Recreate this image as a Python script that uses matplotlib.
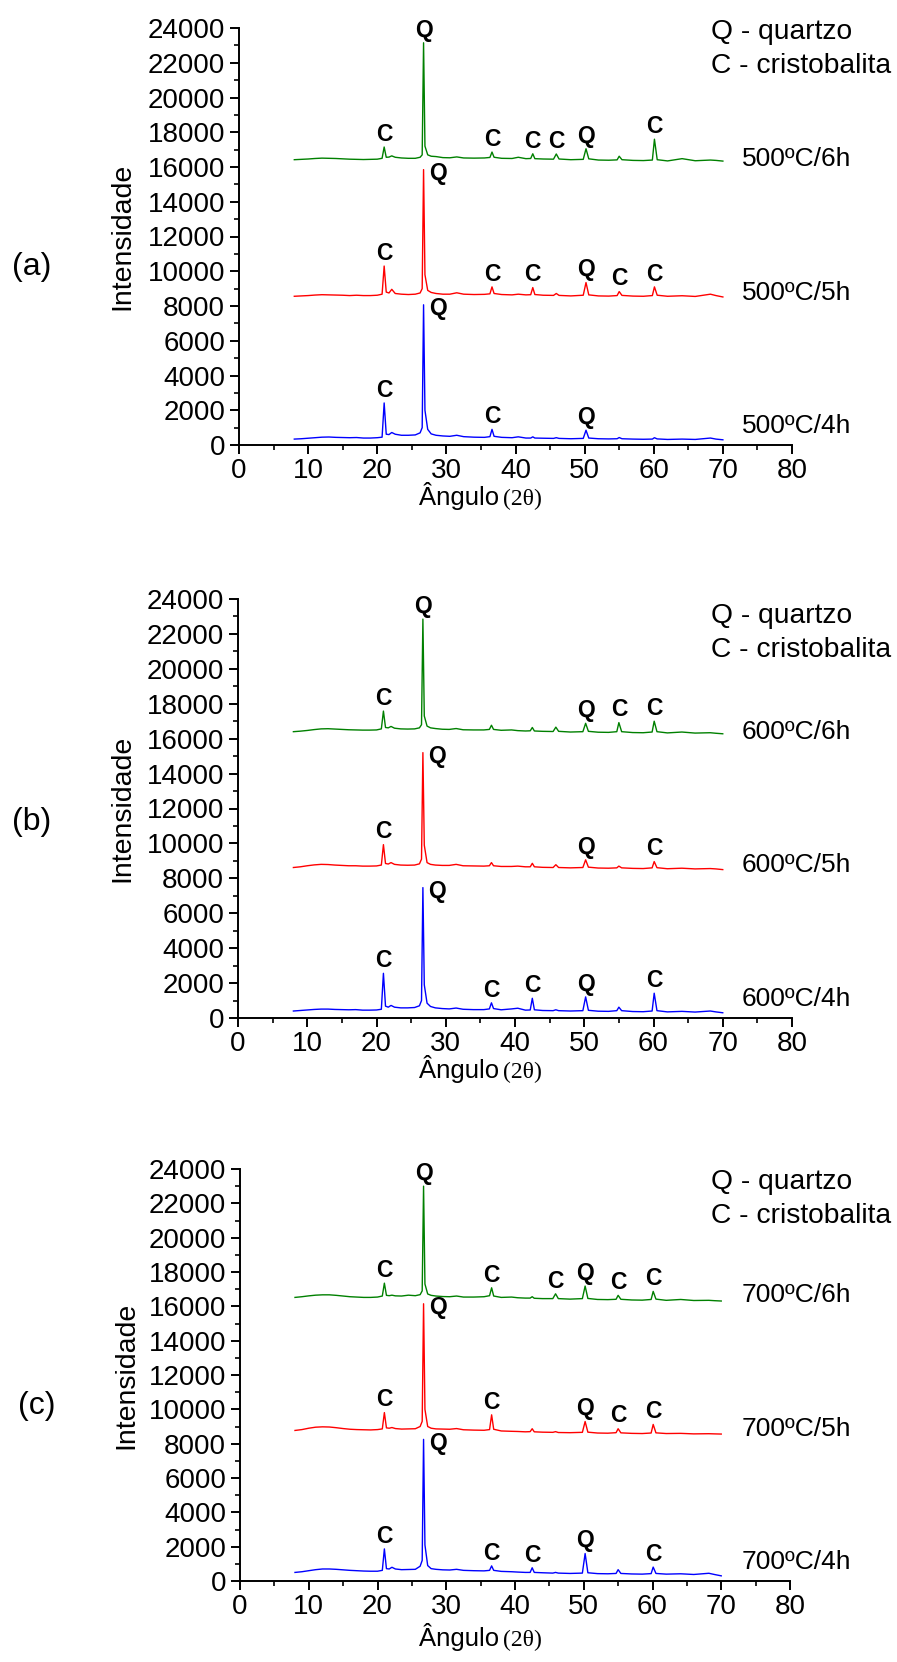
import matplotlib
matplotlib.use("Agg")
import matplotlib.pyplot as plt
from matplotlib.ticker import MultipleLocator

plt.rcParams['font.family'] = ['Liberation Sans', 'DejaVu Sans']

# ---------------------------------------------------------------- data
# diffraction angle (2θ, degrees) shared by every pattern
two_theta = [8.0, 9.0, 10.0, 11.0, 12.0, 13.0, 14.0, 15.0, 16.0, 17.0,
             18.0, 19.0, 20.0, 20.7, 21.0, 21.3, 21.7, 22.1, 22.6, 23.5,
             24.5, 25.5, 26.2, 26.5, 26.7, 26.9, 27.3, 27.8, 28.5, 29.5,
             30.5, 31.5, 32.5, 34.0, 35.5, 36.3, 36.6, 36.9, 38.0, 39.5,
             40.4, 41.5, 42.2, 42.5, 42.8, 44.0, 45.5, 45.9, 46.3, 48.0,
             49.8, 50.2, 50.6, 52.0, 53.5, 54.7, 55.0, 55.4, 57.0, 58.5,
             59.8, 60.1, 60.5, 62.0, 64.1, 66.0, 68.2, 69.0, 70.0]

# 500 ºC
i500_6h = [16420, 16440, 16460, 16490, 16510, 16500, 16490, 16470, 16450, 16440,
           16430, 16440, 16450, 16500, 17150, 16560, 16570, 16640, 16560, 16520,
           16500, 16500, 16560, 16700, 23150, 17200, 16700, 16620, 16600, 16540,
           16530, 16580, 16520, 16510, 16520, 16550, 16860, 16560, 16500, 16490,
           16560, 16480, 16490, 16760, 16480, 16460, 16450, 16750, 16460, 16420,
           16440, 17050, 16470, 16400, 16390, 16410, 16620, 16420, 16380, 16370,
           16400, 17600, 16420, 16350, 16480, 16360, 16400, 16380, 16340]
i500_5h = [8560, 8580, 8600, 8630, 8650, 8640, 8630, 8620, 8600, 8620,
           8600, 8600, 8620, 8680, 10300, 8800, 8750, 8960, 8720, 8680,
           8660, 8680, 8750, 9000, 15850, 9800, 8900, 8780, 8720, 8680,
           8680, 8760, 8680, 8660, 8670, 8700, 9100, 8720, 8660, 8640,
           8680, 8640, 8650, 9060, 8660, 8620, 8610, 8720, 8610, 8580,
           8620, 9350, 8640, 8580, 8570, 8600, 8830, 8610, 8570, 8560,
           8600, 9100, 8620, 8560, 8590, 8550, 8680, 8600, 8520]
i500_4h = [340, 360, 390, 420, 450, 460, 440, 430, 420, 430,
           400, 400, 420, 450, 2420, 620, 600, 720, 620, 560,
           560, 580, 700, 1000, 8070, 2000, 900, 640, 560, 520,
           500, 560, 480, 450, 440, 480, 900, 500, 440, 420,
           470, 400, 400, 470, 400, 390, 380, 420, 380, 360,
           380, 850, 400, 360, 350, 360, 430, 360, 340, 330,
           340, 420, 350, 320, 340, 320, 400, 340, 300]

# 600 ºC
i600_6h = [16400, 16430, 16470, 16520, 16560, 16570, 16550, 16530, 16510, 16500,
           16490, 16490, 16500, 16560, 17580, 16640, 16620, 16700, 16600, 16560,
           16550, 16560, 16620, 16800, 22850, 17300, 16720, 16620, 16580, 16540,
           16530, 16580, 16510, 16500, 16500, 16530, 16770, 16530, 16480, 16500,
           16460, 16440, 16450, 16640, 16440, 16420, 16410, 16660, 16420, 16380,
           16400, 16880, 16420, 16370, 16360, 16400, 16920, 16400, 16350, 16340,
           16380, 17000, 16400, 16330, 16380, 16320, 16340, 16310, 16280]
i600_5h = [8620, 8660, 8720, 8770, 8800, 8790, 8760, 8740, 8720, 8720,
           8700, 8700, 8710, 8760, 9930, 8850, 8820, 8900, 8800, 8760,
           8750, 8760, 8830, 9100, 15200, 9900, 8900, 8800, 8760, 8740,
           8740, 8800, 8720, 8710, 8700, 8720, 8900, 8720, 8680, 8680,
           8700, 8660, 8660, 8860, 8660, 8630, 8620, 8780, 8620, 8600,
           8620, 9060, 8640, 8590, 8580, 8600, 8700, 8600, 8570, 8560,
           8600, 8960, 8610, 8550, 8580, 8540, 8560, 8540, 8500]
i600_4h = [400, 430, 460, 490, 510, 510, 490, 480, 470, 480,
           450, 450, 460, 500, 2560, 680, 620, 720, 620, 580,
           580, 600, 700, 1000, 7470, 1900, 850, 660, 580, 540,
           520, 570, 500, 480, 480, 520, 870, 540, 470, 520,
           560, 450, 460, 1130, 470, 430, 420, 470, 420, 400,
           420, 1210, 440, 390, 380, 420, 620, 420, 370, 360,
           400, 1420, 420, 350, 380, 340, 400, 350, 300]

# 700 ºC
i700_6h = [16520, 16560, 16610, 16650, 16670, 16670, 16640, 16600, 16560, 16540,
           16520, 16520, 16540, 16600, 17350, 16640, 16620, 16650, 16610, 16600,
           16650, 16620, 16680, 16900, 23000, 17300, 16720, 16640, 16600, 16570,
           16560, 16600, 16540, 16540, 16560, 16620, 17080, 16600, 16520, 16540,
           16500, 16480, 16480, 16560, 16470, 16450, 16450, 16730, 16450, 16420,
           16450, 17180, 16460, 16400, 16390, 16410, 16640, 16410, 16370, 16360,
           16400, 16870, 16420, 16350, 16400, 16340, 16350, 16330, 16310]
i700_5h = [8770, 8820, 8900, 8960, 8980, 8970, 8930, 8880, 8840, 8820,
           8810, 8800, 8820, 8860, 9810, 8920, 8900, 8940, 8880, 8850,
           8860, 8870, 9000, 9300, 16150, 10000, 9000, 8900, 8860, 8850,
           8840, 8880, 8810, 8790, 8780, 8820, 9680, 8840, 8740, 8720,
           8710, 8690, 8700, 8870, 8690, 8670, 8660, 8700, 8650, 8640,
           8660, 9290, 8670, 8620, 8610, 8640, 8870, 8630, 8600, 8590,
           8620, 9120, 8630, 8590, 8600, 8570, 8580, 8570, 8560]
i700_4h = [500, 540, 600, 660, 700, 700, 680, 650, 620, 600,
           580, 570, 570, 620, 1870, 720, 700, 800, 700, 660,
           670, 680, 860, 1200, 8250, 2100, 900, 720, 680, 650,
           640, 680, 620, 600, 590, 620, 880, 620, 560, 540,
           520, 500, 500, 770, 500, 480, 460, 500, 460, 440,
           460, 1600, 480, 430, 420, 440, 660, 440, 410, 400,
           430, 810, 440, 400, 420, 380, 450, 380, 300]

series_names = {
    500: ['500ºC/6h', '500ºC/5h', '500ºC/4h'],
    600: ['600ºC/6h', '600ºC/5h', '600ºC/4h'],
    700: ['700ºC/6h', '700ºC/5h', '700ºC/4h'],
}

# identified phases: (2θ of the reflection, phase letter)
phases_500 = [
    [(21.0, 'C'), (26.7, 'Q'), (36.6, 'C'), (42.5, 'C'), (45.9, 'C'), (50.2, 'Q'), (60.1, 'C')],
    [(21.0, 'C'), (26.7, 'Q'), (36.6, 'C'), (42.5, 'C'), (50.2, 'Q'), (55.0, 'C'), (60.1, 'C')],
    [(21.0, 'C'), (26.7, 'Q'), (36.6, 'C'), (50.2, 'Q')],
]
phases_600 = [
    [(21.0, 'C'), (26.7, 'Q'), (50.2, 'Q'), (55.0, 'C'), (60.1, 'C')],
    [(21.0, 'C'), (26.7, 'Q'), (50.2, 'Q'), (60.1, 'C')],
    [(21.0, 'C'), (26.7, 'Q'), (36.6, 'C'), (42.5, 'C'), (50.2, 'Q'), (60.1, 'C')],
]
phases_700 = [
    [(21.0, 'C'), (26.7, 'Q'), (36.6, 'C'), (45.9, 'C'), (50.2, 'Q'), (55.0, 'C'), (60.1, 'C')],
    [(21.0, 'C'), (26.7, 'Q'), (36.6, 'C'), (50.2, 'Q'), (55.0, 'C'), (60.1, 'C')],
    [(21.0, 'C'), (26.7, 'Q'), (36.6, 'C'), (42.5, 'C'), (50.2, 'Q'), (60.1, 'C')],
]

x_ticks = [0, 10, 20, 30, 40, 50, 60, 70, 80]
y_ticks = list(range(0, 24001, 2000))
legend_lines = ['Q - quartzo', 'C - cristobalita']

# ---------------------------------------------------------------- layout
W, H = 897, 1662
fig = plt.figure(figsize=(W / 100, H / 100), dpi=100)

colors = ['#008000', '#ff0000', '#0000ff']
TICK_FS = 20
LEG_FS = 20.3
NAME_FS = 19
PEAK_FS = 16.5


def fx(x):
    return x / W


def fy(y):
    return 1 - y / H


panels = [
    dict(tag='(a)', box=(239, 28, 792, 445), temp=500, curves=[i500_6h, i500_5h, i500_4h],
         phases=phases_500, tag_xy=(32, 267), ylab_x=122, xlab_y=505, leg_y=32),
    dict(tag='(b)', box=(238, 599, 792, 1018), temp=600, curves=[i600_6h, i600_5h, i600_4h],
         phases=phases_600, tag_xy=(32, 822), ylab_x=122, xlab_y=1078, leg_y=616),
    dict(tag='(c)', box=(240, 1169, 790, 1581), temp=700, curves=[i700_6h, i700_5h, i700_4h],
         phases=phases_700, tag_xy=(37, 1406), ylab_x=126, xlab_y=1646, leg_y=1182),
]

# vertical position of the sample names above the x axis (pixels)
name_rise = [286, 152.5, 19]

for p in panels:
    l, t, r, b = p['box']
    ax = fig.add_axes([fx(l), fy(b), (r - l) / W, (b - t) / H])
    ax.set_xlim(0, 80)
    ax.set_ylim(0, 24000)
    for sp in ('top', 'right'):
        ax.spines[sp].set_visible(False)
    for sp in ('left', 'bottom'):
        ax.spines[sp].set_linewidth(1.4)
    ax.set_xticks(x_ticks)
    ax.set_yticks(y_ticks)
    ax.set_yticklabels([str(v) for v in y_ticks])
    ax.xaxis.set_minor_locator(MultipleLocator(5))
    ax.yaxis.set_minor_locator(MultipleLocator(1000))
    ax.tick_params(which='major', direction='out', length=6.5, width=1.4,
                   labelsize=TICK_FS, pad=3)
    ax.tick_params(which='minor', direction='out', length=3.5, width=1.2)
    ax.tick_params(axis='y', which='major', pad=3.5)

    for k, (vals, col) in enumerate(zip(p['curves'], colors)):
        ax.plot(two_theta, vals, color=col, lw=1.0, clip_on=False)
        for (pos, letter) in p['phases'][k]:
            top = max(v for x, v in zip(two_theta, vals) if abs(x - pos) <= 0.35)
            if letter == 'Q' and abs(pos - 26.7) < 0.1 and k > 0:
                ax.annotate(letter, xy=(pos, top), xytext=(4, -7.5),
                            textcoords='offset points', ha='left', va='baseline',
                            fontsize=PEAK_FS, fontweight='bold', annotation_clip=False)
            else:
                ax.annotate(letter, xy=(pos, top), xytext=(0, 4.5),
                            textcoords='offset points', ha='center', va='baseline',
                            fontsize=PEAK_FS, fontweight='bold', annotation_clip=False)
        fig.text(fx(742), fy(b - name_rise[k]), series_names[p['temp']][k],
                 fontsize=NAME_FS, ha='left', va='center')

    # phase key
    for j, line in enumerate(legend_lines):
        fig.text(fx(711), fy(p['leg_y'] + 34 * j), line, fontsize=LEG_FS,
                 ha='left', va='center')

    # axis titles
    fig.text(fx(p['ylab_x']), fy((t + b) / 2), 'Intensidade', fontsize=20.5,
             rotation=90, ha='center', va='center')
    t1 = fig.text(fx(419), fy(p['xlab_y']), 'Ângulo', fontsize=18.5,
                  ha='left', va='baseline')
    ax.annotate('(2θ)', xy=(1, fy(p['xlab_y'])), xycoords=(t1, 'figure fraction'),
                xytext=(3, 0), textcoords='offset points', ha='left', va='baseline',
                fontsize=17, family=['Liberation Serif', 'DejaVu Serif'])

    fig.text(fx(p['tag_xy'][0]), fy(p['tag_xy'][1]), p['tag'], fontsize=23,
             ha='center', va='center')

fig.savefig('out.png', dpi=100)
